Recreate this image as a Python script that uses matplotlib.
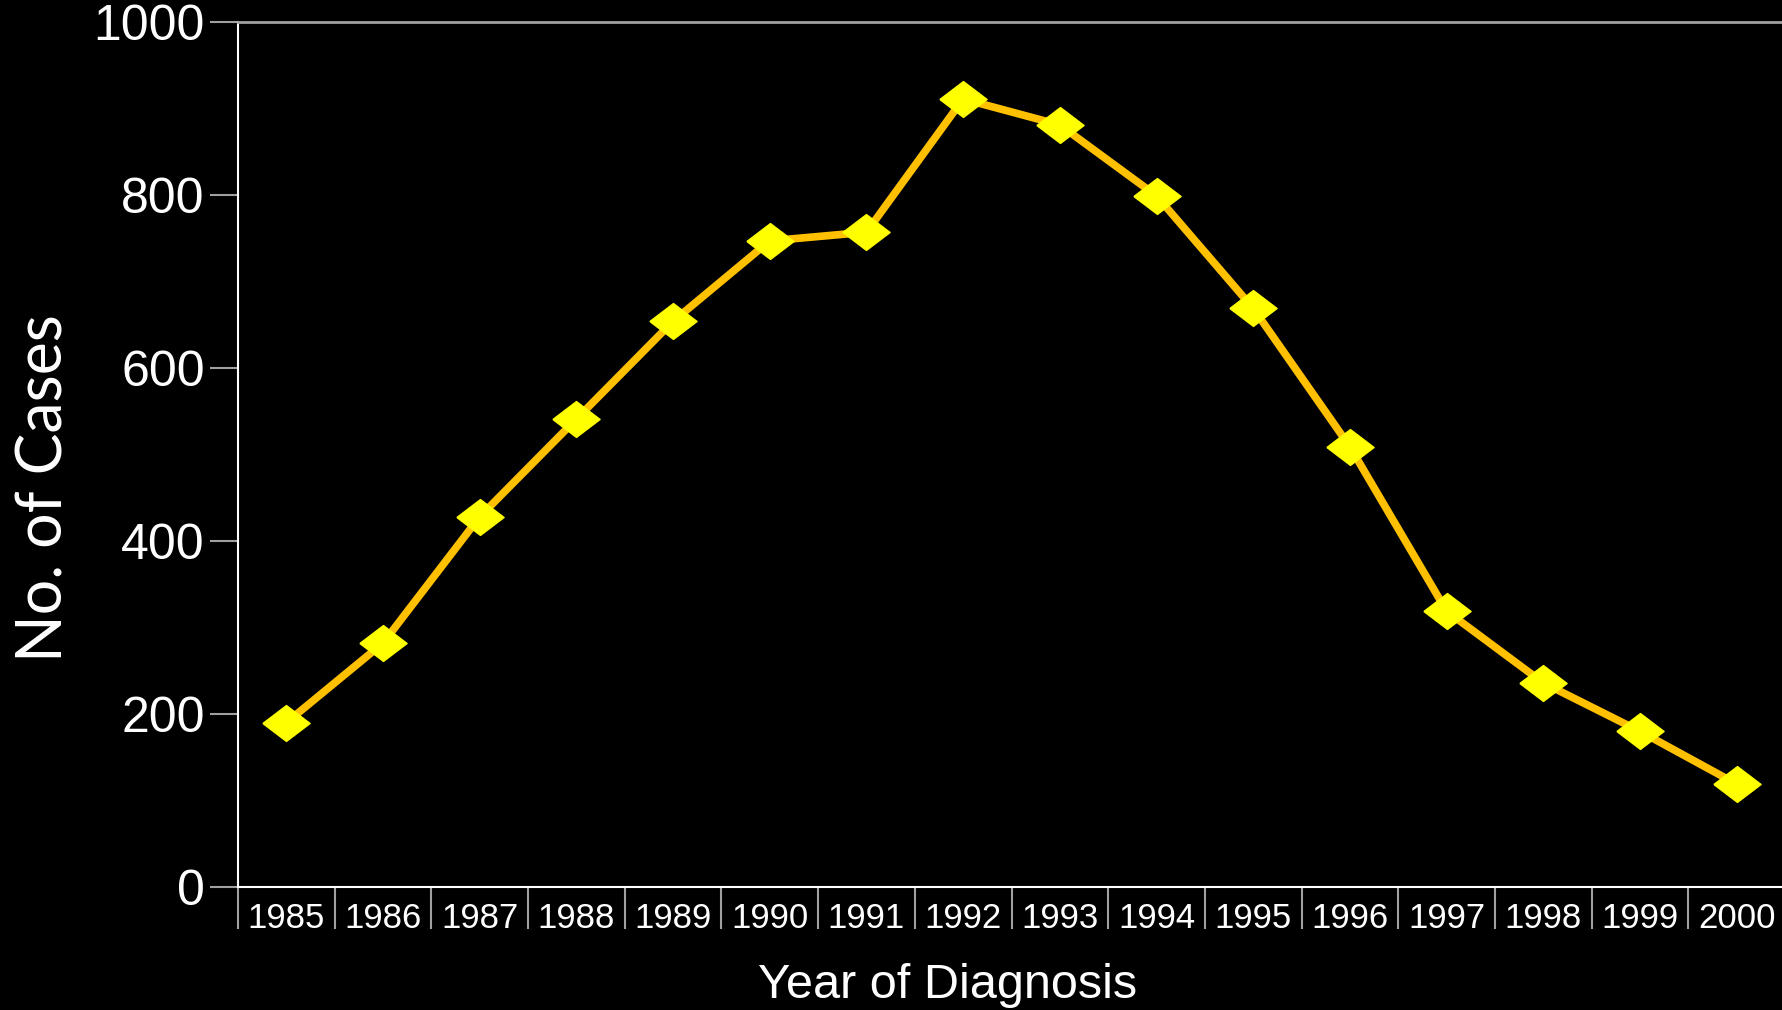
import matplotlib
matplotlib.use("Agg")
import matplotlib.pyplot as plt
import numpy as np

# 数据
years = ['1985', '1986', '1987', '1988', '1989', '1990', '1991', '1992',
         '1993', '1994', '1995', '1996', '1997', '1998', '1999', '2000']
cases = [190, 282, 428, 541, 654, 747, 757, 911,
         881, 799, 669, 509, 319, 236, 180, 119]
y_ticks = [0, 200, 400, 600, 800, 1000]

fig = plt.figure(figsize=(17.82, 10.10), dpi=100, facecolor='black')
ax = fig.add_axes([238/1782, 1-887/1010, 1547/1782, (887-22)/1010])
ax.set_facecolor('black')

x = np.arange(len(years))
# 压扁的菱形
diamond = [(-1, 0), (0, 0.76), (1, 0), (0, -0.76), (-1, 0)]
ax.plot(x, cases, color='#FFC000', linewidth=5.5, zorder=2)
ax.plot(x, cases, linestyle='none', marker=diamond, markersize=34,
        markerfacecolor='#FFFF00', markeredgecolor='#FFFF00', zorder=3)

ax.set_xlim(-0.5, len(years) - 0.5)
ax.set_ylim(0, 1000)

# 主刻度只放标签，次刻度画分隔线
ax.set_xticks(x)
ax.set_xticklabels(years, fontfamily='Liberation Sans', fontsize=25, color='white')
ax.set_xticks(np.arange(-0.5, len(years)), minor=True)
ax.tick_params(axis='x', which='major', length=0, pad=11)
ax.tick_params(axis='x', which='minor', length=30, width=1.5, color='#a0a0a0', direction='out')

ax.set_yticks(y_ticks)
ax.set_yticklabels([str(v) for v in y_ticks], fontfamily='Liberation Sans', fontsize=36, color='white')
ax.tick_params(axis='y', length=20, width=1.5, color='#a0a0a0', pad=4)

ax.spines['left'].set_color('white')
ax.spines['bottom'].set_color('white')
ax.spines['left'].set_linewidth(1.5)
ax.spines['bottom'].set_linewidth(1.5)
ax.spines['top'].set_color('#a0a0a0')
ax.spines['top'].set_linewidth(2)
ax.spines['right'].set_visible(False)

fig.text(948/1782, 1-985/1010, 'Year of Diagnosis', fontfamily='Liberation Sans',
         fontsize=35, color='white', ha='center', va='center')
fig.text(45/1782, 1-488/1010, 'No. of Cases', fontfamily='Lato',
         fontsize=45, color='white', ha='center', va='center', rotation=90)

fig.savefig('out.png', dpi=100, facecolor='black')
